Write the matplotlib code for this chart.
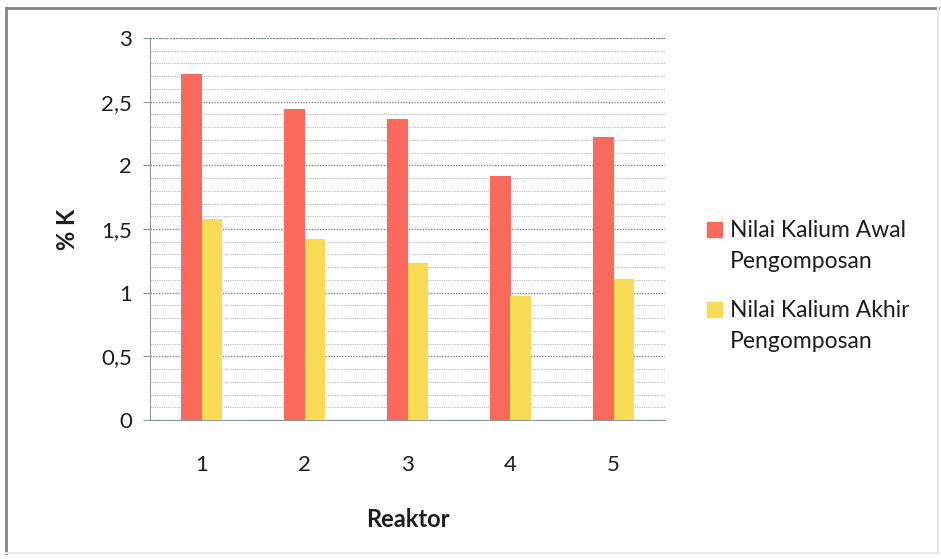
import numpy as np
import matplotlib.pyplot as plt
from matplotlib.patches import Rectangle
from matplotlib.lines import Line2D
from matplotlib.ticker import MultipleLocator, FuncFormatter

plt.rcParams['font.family'] = ['Lato', 'DejaVu Sans']

reaktor = ['1', '2', '3', '4', '5']
kalium_awal = [2.72, 2.44, 2.36, 1.92, 2.22]
kalium_akhir = [1.58, 1.42, 1.23, 0.97, 1.11]
labels = [['Nilai Kalium Awal', 'Pengomposan'], ['Nilai Kalium Akhir', 'Pengomposan']]
colors = ['#F96A5C', '#F9DC55']

W, H = 941, 559
fig = plt.figure(figsize=(W / 100, H / 100), dpi=100)
ax = fig.add_axes([150 / W, (H - 420) / H, 515 / W, 382 / H])

x = np.arange(1, len(reaktor) + 1)
bw = 0.2
ax.bar(x - bw / 2, kalium_awal, bw, color=colors[0], zorder=3)
ax.bar(x + bw / 2, kalium_akhir, bw, color=colors[1], zorder=3)

ax.set_xlim(0.5, 5.5)
ax.set_ylim(0, 3)
ax.set_xticks(x)
ax.set_xticklabels(reaktor)
ax.yaxis.set_major_locator(MultipleLocator(0.5))
ax.yaxis.set_minor_locator(MultipleLocator(0.1))
ax.yaxis.set_major_formatter(FuncFormatter(lambda v, p: f'{v:g}'.replace('.', ',')))

# dotted gridlines, major a bit darker than the minor ones
ax.grid(axis='y', which='minor', color='#b5bcbc', linestyle=(0, (1, 1)), linewidth=0.8, zorder=0)
ax.grid(axis='y', which='major', color='#7f8a8a', linestyle=(0, (1, 1)), linewidth=1.0, zorder=0)
ax.axhline(3, color='#6f7a7a', linestyle=(0, (1, 1)), linewidth=1.2, zorder=1)

for s in ['top', 'right']:
    ax.spines[s].set_visible(False)
ax.spines['left'].set_color('#8c9a9a')
ax.spines['bottom'].set_color('#8c9a9a')
ax.tick_params(axis='y', which='major', length=5, color='#8c9a9a', labelsize=16, pad=8)
ax.tick_params(axis='y', which='minor', length=0)
ax.tick_params(axis='x', length=0, labelsize=16, pad=25)
for t in ax.get_xticklabels() + ax.get_yticklabels():
    t.set_color('#1e1e1e')

ax.set_xlabel('Reaktor', fontsize=17, fontweight='bold', labelpad=24, color='#1e1e1e')
ax.set_ylabel('% K', fontsize=17, fontweight='bold', labelpad=16, color='#1e1e1e')

# legend with squares aligned to the first line of each label
for i, (lines, c) in enumerate(zip(labels, colors)):
    base = 237 + i * 80
    fig.patches.append(Rectangle((707 / W, (H - base) / H), 15 / W, 15 / H,
                                 transform=fig.transFigure, color=c))
    for j, line in enumerate(lines):
        fig.text(730 / W, (H - base - j * 31) / H, line, fontsize=16.5, color='#1e1e1e',
                 va='baseline', ha='left')

# outer chart border
fig.lines.append(Line2D([6 / W, 6 / W], [6 / H, (H - 8) / H], transform=fig.transFigure,
                        color='#7f8787', linewidth=2))
fig.lines.append(Line2D([6 / W, 938 / W], [(H - 8) / H, (H - 8) / H], transform=fig.transFigure,
                        color='#7f8787', linewidth=2))
fig.lines.append(Line2D([938 / W, 938 / W], [6 / H, (H - 8) / H], transform=fig.transFigure,
                        color='#e4e8e8', linewidth=1.5))
fig.lines.append(Line2D([6 / W, 938 / W], [6 / H, 6 / H], transform=fig.transFigure,
                        color='#e4e8e8', linewidth=1.5))

fig.savefig('out.png', dpi=100)
